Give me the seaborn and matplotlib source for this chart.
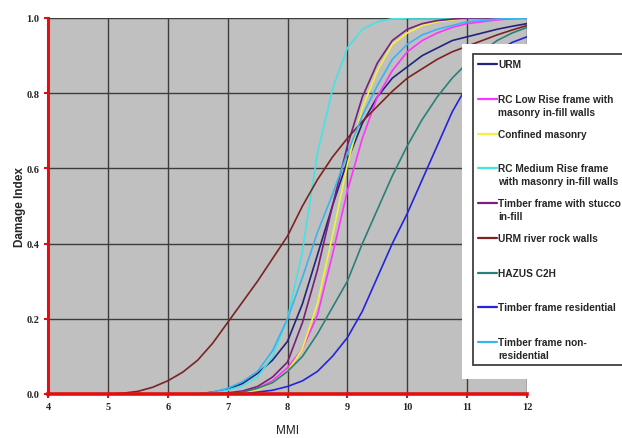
import pandas as pd
import matplotlib.pyplot as plt
from matplotlib.lines import Line2D
from matplotlib.patches import Rectangle
from matplotlib.legend_handler import HandlerLine2D
import seaborn as sns

sns.set_style('ticks')

mmi = [4.0, 4.25, 4.5, 4.75, 5.0, 5.25, 5.5, 5.75, 6.0, 6.25, 6.5, 6.75,
       7.0, 7.25, 7.5, 7.75, 8.0, 8.25, 8.5, 8.75, 9.0, 9.25, 9.5, 9.75,
       10.0, 10.25, 10.5, 10.75, 11.0, 11.25, 11.5, 11.75, 12.0]

urm = [0, 0, 0, 0, 0, 0, 0, 0, 0, 0, 0, 0.005,
       0.012, 0.028, 0.055, 0.09, 0.14, 0.24, 0.37, 0.5, 0.62, 0.72, 0.79, 0.84,
       0.87, 0.9, 0.92, 0.94, 0.95, 0.96, 0.97, 0.978, 0.985]
rc_low = [0, 0, 0, 0, 0, 0, 0, 0, 0, 0, 0, 0,
          0, 0.005, 0.015, 0.035, 0.07, 0.12, 0.21, 0.37, 0.54, 0.68, 0.79, 0.86,
          0.91, 0.94, 0.96, 0.975, 0.985, 0.99, 0.995, 0.998, 1.0]
confined = [0, 0, 0, 0, 0, 0, 0, 0, 0, 0, 0, 0,
            0, 0.004, 0.012, 0.03, 0.06, 0.12, 0.24, 0.42, 0.61, 0.76, 0.86, 0.93,
            0.96, 0.98, 0.99, 0.995, 1.0, 1.0, 1.0, 1.0, 1.0]
rc_medium = [0, 0, 0, 0, 0, 0, 0, 0, 0, 0, 0, 0.003,
             0.01, 0.022, 0.045, 0.1, 0.2, 0.38, 0.64, 0.81, 0.92, 0.97, 0.99, 0.998,
             1.0, 1.0, 1.0, 1.0, 1.0, 1.0, 1.0, 1.0, 1.0]
timber_stucco = [0, 0, 0, 0, 0, 0, 0, 0, 0, 0, 0, 0,
                 0.003, 0.008, 0.02, 0.045, 0.085, 0.19, 0.33, 0.5, 0.66, 0.79, 0.88, 0.94,
                 0.97, 0.985, 0.993, 0.997, 1.0, 1.0, 1.0, 1.0, 1.0]
urm_river = [0, 0, 0, 0, 0, 0.002, 0.007, 0.018, 0.035, 0.058, 0.09, 0.135,
             0.19, 0.245, 0.3, 0.36, 0.42, 0.5, 0.57, 0.63, 0.68, 0.725, 0.765, 0.805,
             0.84, 0.865, 0.89, 0.91, 0.925, 0.94, 0.955, 0.968, 0.98]
hazus = [0, 0, 0, 0, 0, 0, 0, 0, 0, 0, 0, 0,
         0, 0.005, 0.015, 0.03, 0.06, 0.1, 0.16, 0.23, 0.3, 0.4, 0.49, 0.58,
         0.66, 0.73, 0.79, 0.84, 0.88, 0.91, 0.94, 0.96, 0.975]
timber_res = [0, 0, 0, 0, 0, 0, 0, 0, 0, 0, 0, 0,
              0, 0, 0.005, 0.01, 0.02, 0.035, 0.06, 0.1, 0.15, 0.22, 0.31, 0.4,
              0.48, 0.57, 0.66, 0.75, 0.82, 0.87, 0.91, 0.935, 0.95]
timber_nonres = [0, 0, 0, 0, 0, 0, 0, 0, 0, 0, 0, 0.005,
                 0.015, 0.033, 0.06, 0.115, 0.2, 0.31, 0.43, 0.53, 0.64, 0.74, 0.82, 0.89,
                 0.93, 0.955, 0.97, 0.98, 0.99, 0.994, 0.997, 0.999, 1.0]

names = ['URM', 'RC Low Rise', 'Confined masonry', 'RC Medium Rise',
         'Timber stucco', 'URM river rock', 'HAZUS C2H', 'Timber residential',
         'Timber non-residential']
values = [urm, rc_low, confined, rc_medium, timber_stucco, urm_river, hazus,
          timber_res, timber_nonres]
legend_labels = ['URM\n ', 'RC Low Rise frame with\nmasonry in-fill walls',
                 'Confined masonry\n ', 'RC Medium Rise frame\nwith masonry in-fill walls',
                 'Timber frame with stucco\nin-fill', 'URM river rock walls\n ',
                 'HAZUS C2H\n ', 'Timber frame residential\n ',
                 'Timber frame non-\nresidential']
colors = ['#23237e', '#ff33ff', '#f2f23c', '#45e3e3', '#7a1f7a', '#7c2222',
          '#2a8078', '#2424dd', '#3ab4ee']

df = pd.concat([pd.DataFrame({'MMI': mmi, 'Damage Index': v, 'Type': n})
                for n, v in zip(names, values)], ignore_index=True)

LINESPACING = 1.35


class FirstLineHandler(HandlerLine2D):
    # put the legend line next to the first text line, like Excel does
    def create_artists(self, legend, orig_handle, xdescent, ydescent,
                       width, height, fontsize, trans):
        arts = super().create_artists(legend, orig_handle, xdescent, ydescent,
                                      width, height, fontsize, trans)
        for a in arts:
            a.set_ydata([y + 0.5 * LINESPACING * fontsize for y in a.get_ydata()])
        return arts


fig = plt.figure(figsize=(6.22, 4.39), dpi=100)
ax = fig.add_axes([48 / 622, 1 - 395 / 439, 479 / 622, 376 / 439])
ax.set_facecolor('#c0c0c0')

sns.lineplot(data=df, x='MMI', y='Damage Index', hue='Type', hue_order=names,
             palette=dict(zip(names, colors)), lw=1.2, legend=False, ax=ax)

ax.set_xlim(4, 12)
ax.set_ylim(0, 1)
ax.set_xticks(range(4, 13))
ax.set_yticks([0, 0.2, 0.4, 0.6, 0.8, 1.0])
ax.set_yticklabels([f'{t:.1f}' for t in [0, 0.2, 0.4, 0.6, 0.8, 1.0]])
ax.grid(True, color='#3c3c3c', lw=1)
ax.set_axisbelow(True)
for s in ['top', 'right']:
    ax.spines[s].set_visible(False)
ax.spines['left'].set_color('#e01010')
ax.spines['left'].set_linewidth(2.2)
ax.spines['bottom'].set_color('#e01010')
ax.spines['bottom'].set_linewidth(2.6)
ax.tick_params(color='#e01010', length=3, width=1.5, pad=3, labelsize=7.5)
for lbl in ax.get_xticklabels() + ax.get_yticklabels():
    lbl.set_family('Liberation Serif')
    lbl.set_weight('bold')

ax.set_xlabel('MMI', fontsize=8.5, family='Liberation Sans',
              color='#222222', labelpad=9)
ax.set_ylabel('Damage Index', fontsize=8.5, family='Liberation Sans',
              fontweight='bold', labelpad=0.5)

# white panel behind the legend
fig.add_artist(Rectangle((462 / 622, 1 - 380 / 439), 160 / 622, 335 / 439,
                         transform=fig.transFigure, facecolor='white',
                         edgecolor='none', zorder=1))

leg = fig.legend(ax.get_lines()[:len(names)], legend_labels, loc='upper left',
                 bbox_to_anchor=(473 / 622, 1 - 55 / 439), borderaxespad=0,
                 fancybox=False, framealpha=1, edgecolor='#404040',
                 handlelength=1.9, handletextpad=0.1, labelspacing=1.18,
                 borderpad=0.5,
                 prop={'family': 'Liberation Sans', 'weight': 'bold', 'size': 7.3},
                 handler_map={Line2D: FirstLineHandler()})
leg.get_frame().set_linewidth(1.3)
for line in leg.get_lines():
    line.set_linewidth(1.6)
for t in leg.get_texts():
    t.set_linespacing(LINESPACING)

fig.savefig('out.png', dpi=100)
